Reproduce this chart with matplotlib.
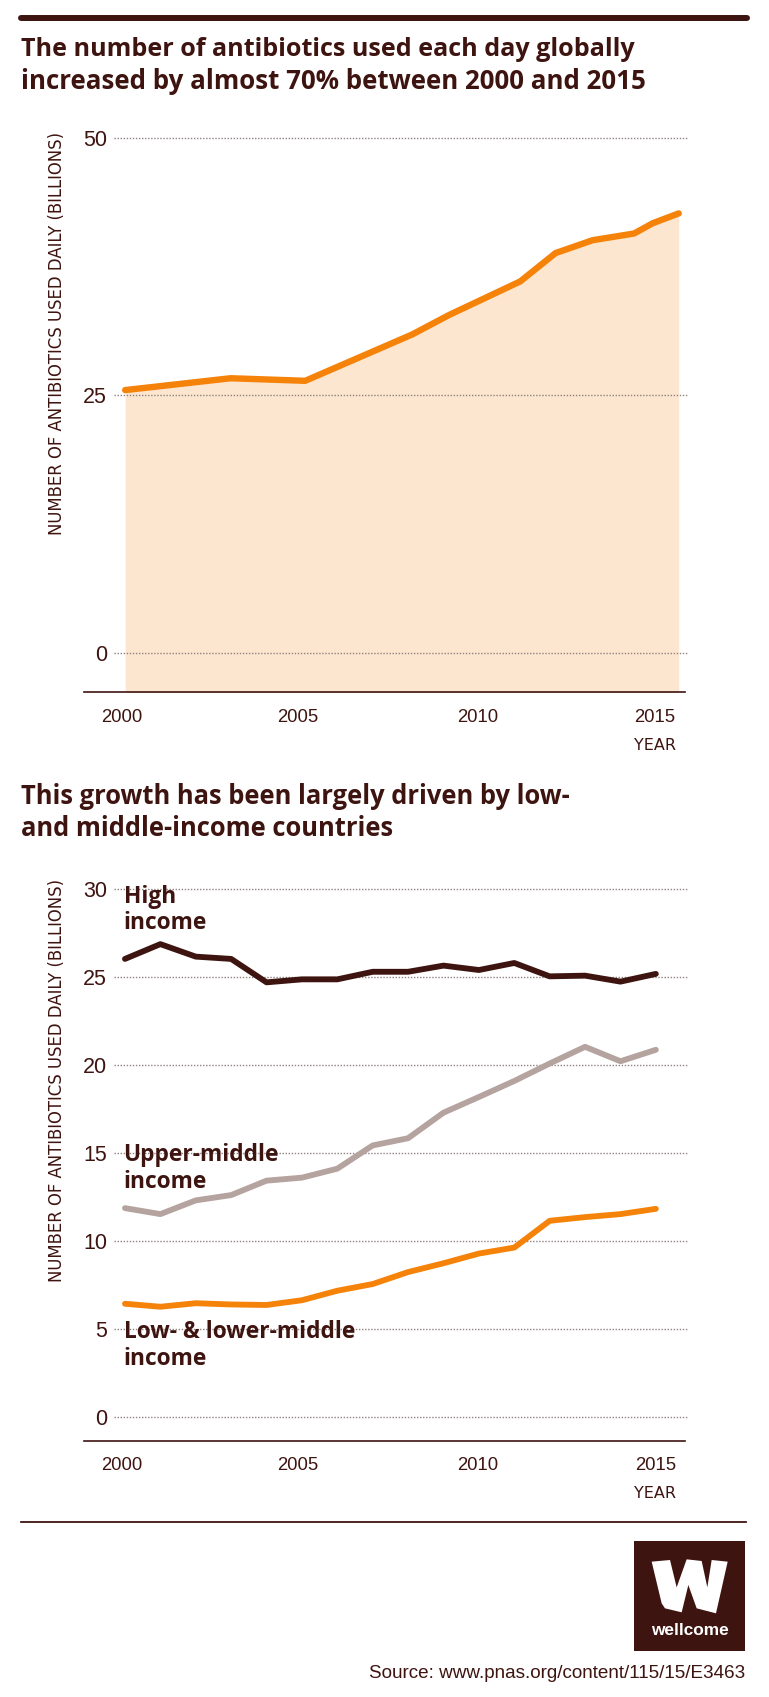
import matplotlib
matplotlib.use('Agg')
import matplotlib.pyplot as plt
from matplotlib.lines import Line2D
from matplotlib.patches import Polygon, Rectangle

W, H = 769, 1697
DARK = '#3e1410'
ORANGE = '#f58209'
FILL = '#fce6cf'
GREY = '#b5a3a0'
SANS = 'Liberation Sans'
HEAD = 'Open Sans'
SPACED = 'DejaVu Sans'

# top chart, total use (line is not on whole years in the original)
total_years = [2000, 2002.93, 2005, 2007.97, 2009, 2010.97, 2011.95, 2012.98, 2014.13, 2014.65, 2015.37]
total_values = [25.5, 26.65, 26.4, 30.9, 32.8, 36.05, 38.8, 40.05, 40.7, 41.7, 42.65]
total_yticks = [0, 25, 50]

# bottom chart, by income group
years = list(range(2000, 2016))
high_income = [26.03, 26.87, 26.16, 26.03, 24.7, 24.87, 24.87, 25.3, 25.3, 25.65, 25.4, 25.8, 25.04, 25.08, 24.74, 25.18]
upper_middle = [11.88, 11.54, 12.32, 12.62, 13.44, 13.61, 14.12, 15.44, 15.85, 17.3, 18.19, 19.1, 20.09, 21.04, 20.22, 20.87]
low_middle = [6.45, 6.28, 6.48, 6.41, 6.38, 6.65, 7.19, 7.57, 8.25, 8.75, 9.3, 9.64, 11.16, 11.37, 11.54, 11.84]
income_yticks = [0, 5, 10, 15, 20, 25, 30]

tick_labels = ['2000', '2005', '2010', '2015']
ylabel = 'NUMBER OF ANTIBIOTICS USED DAILY (BILLIONS)'


def fx(x):
    return x / W


def fy(y):
    return 1 - y / H


def px_axes(left, top, right, bottom):
    return fig.add_axes([fx(left), fy(bottom), (right - left) / W, (bottom - top) / H])


def px_text(x, y, s, **kw):
    kw.setdefault('color', DARK)
    kw.setdefault('va', 'center')
    return fig.text(fx(x), fy(y), s, **kw)


def px_line(x0, x1, y, lw, **kw):
    fig.add_artist(Line2D([fx(x0), fx(x1)], [fy(y), fy(y)], color=DARK, lw=lw, **kw))


def style_axes(ax, yticks, tick_pos, pad):
    for s in ax.spines.values():
        s.set_visible(False)
    ax.set_yticks(yticks)
    ax.set_xticks(tick_pos)
    ax.set_xticklabels(tick_labels)
    ax.tick_params(axis='y', length=0, labelsize=15.5, labelcolor=DARK, pad=5)
    ax.tick_params(axis='x', length=0, labelsize=13.3, labelcolor=DARK, pad=pad)
    for lab in ax.get_xticklabels() + ax.get_yticklabels():
        lab.set_family(SANS)
    ax.yaxis.grid(True, color='#8f8280', lw=1, linestyle=(0, (1, 1.2)))
    for g in ax.get_ygridlines():
        g.set_clip_on(False)
    # grid over the fill, under the lines
    ax.set_axisbelow('line')


fig = plt.figure(figsize=(W / 100, H / 100), dpi=100, facecolor='white')

# top bar
px_line(21, 747, 18, 4.3, solid_capstyle='round')

px_text(21, 49.5, 'The number of antibiotics used each day globally', family=HEAD, weight='bold', fontsize=18.1)
px_text(21, 81.5, 'increased by almost 70% between 2000 and 2015', family=HEAD, weight='bold', fontsize=18.65)

ax1 = px_axes(114, 137.7, 687, 691.6)
ax1.fill_between(total_years, total_values, -4, color=FILL, lw=0)
ax1.plot(total_years, total_values, color=ORANGE, lw=4.6, solid_capstyle='round', solid_joinstyle='round')
ax1.set_xlim(1999.69, 2015.6)
ax1.set_ylim(-3.77, 50)
style_axes(ax1, total_yticks, [1999.9, 2004.8, 2009.8, 2014.7], 12.5)
px_line(84, 685, 691.6, 1.2)
px_text(57, 333.5, ylabel, family=SPACED, rotation=90, ha='center', fontsize=11.9)
px_text(655, 745, 'YEAR', family=SPACED, ha='center', fontsize=11.5)

px_text(21, 796, 'This growth has been largely driven by low-', family=HEAD, weight='bold', fontsize=18.4)
px_text(21, 829, 'and middle-income countries', family=HEAD, weight='bold', fontsize=18.4)

ax2 = px_axes(114, 889, 687, 1440.6)
ax2.plot(years, high_income, color=DARK, lw=4.2, solid_capstyle='round', solid_joinstyle='round')
ax2.plot(years, upper_middle, color=GREY, lw=4.2, solid_capstyle='round', solid_joinstyle='round')
ax2.plot(years, low_middle, color=ORANGE, lw=4.2, solid_capstyle='round', solid_joinstyle='round')
ax2.set_xlim(1999.69, 2015.88)
ax2.set_ylim(-1.32, 30)
style_axes(ax2, income_yticks, [1999.9, 2004.89, 2009.97, 2015], 12)
px_line(84, 685, 1440.6, 1.2)
px_text(57, 1080.5, ylabel, family=SPACED, rotation=90, ha='center', fontsize=11.9)
px_text(655, 1493, 'YEAR', family=SPACED, ha='center', fontsize=11.5)

for y, s in [(897, 'High'), (923, 'income'), (1155, 'Upper-middle'), (1182, 'income'),
             (1332, 'Low- & lower-middle'), (1359, 'income')]:
    px_text(123.6, y, s, family=HEAD, weight='bold', fontsize=16.4)

px_line(21, 746, 1522, 1.3)

# logo
fig.add_artist(Rectangle((fx(634.3), fy(1651)), 110.7 / W, 110.3 / H, fc=DARK, ec='none',
                         transform=fig.transFigure))
logo_w = [(275, 185), (330, 180), (350, 262), (380, 178), (425, 183), (442, 262), (455, 180), (503, 185),
          (468, 340), (410, 325), (385, 255), (365, 337), (315, 325), (305, 310)]
fig.add_artist(Polygon([(fx(x / 3 + 560), fy(y / 3 + 1500)) for x, y in logo_w], fc='white', ec='none',
                       transform=fig.transFigure))
px_text(690, 1630.5, 'wellcome', family=SANS, weight='bold', color='white', ha='center', fontsize=12.4)

px_text(745, 1673, 'Source: www.pnas.org/content/115/15/E3463', family=SANS, ha='right', fontsize=13.6)

fig.savefig('out.png', dpi=100)
